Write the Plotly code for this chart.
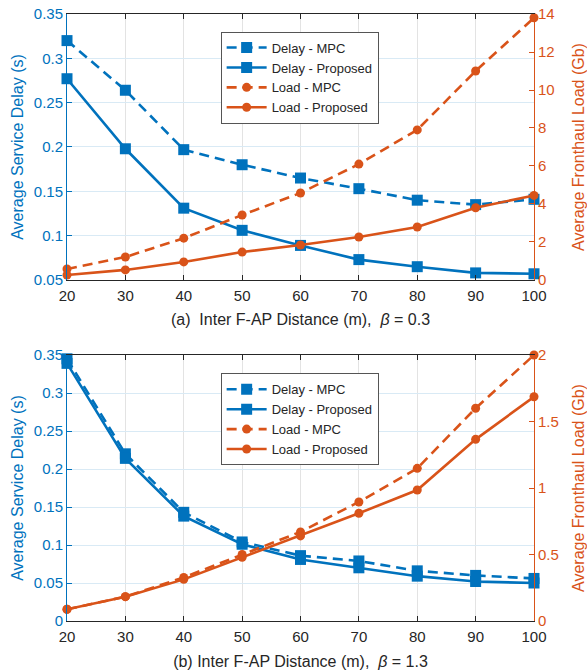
import plotly.graph_objects as go

# ---------------- data ----------------
distance = [20, 30, 40, 50, 60, 70, 80, 90, 100]

# (a) beta = 0.3
delay_mpc_a = [0.320, 0.264, 0.197, 0.180, 0.165, 0.153, 0.140, 0.135, 0.141]
delay_prop_a = [0.277, 0.198, 0.131, 0.106, 0.089, 0.073, 0.065, 0.058, 0.057]
load_mpc_a = [0.58, 1.21, 2.20, 3.42, 4.58, 6.10, 7.90, 11.0, 13.8]
load_prop_a = [0.26, 0.53, 0.95, 1.47, 1.84, 2.26, 2.79, 3.80, 4.45]

# (b) beta = 1.3
delay_mpc_b = [0.345, 0.220, 0.143, 0.104, 0.086, 0.079, 0.066, 0.060, 0.056]
delay_prop_b = [0.339, 0.214, 0.138, 0.101, 0.081, 0.070, 0.059, 0.052, 0.050]
load_mpc_b = [0.088, 0.183, 0.328, 0.500, 0.67, 0.895, 1.148, 1.60, 2.00]
load_prop_b = [0.088, 0.183, 0.313, 0.479, 0.64, 0.81, 0.985, 1.366, 1.686]

names = ["Delay - MPC", "Delay - Proposed", "Load - MPC", "Load - Proposed"]

BLUE = "#0072BD"
ORANGE = "#D95319"
DARK = "#262626"
FONT = "Liberation Sans, Arial, sans-serif"
DASH = "10px,6px"

fig = go.Figure()


def add_panel(xa, ya_l, ya_r, legend, dm, dp, lm, lp):
    fig.add_trace(go.Scatter(x=distance, y=dm, name=names[0], xaxis=xa, yaxis=ya_l,
                             mode="lines+markers", legend=legend, cliponaxis=False,
                             line=dict(color=BLUE, width=2.6, dash=DASH),
                             marker=dict(symbol="square", size=11, color=BLUE)))
    fig.add_trace(go.Scatter(x=distance, y=dp, name=names[1], xaxis=xa, yaxis=ya_l,
                             mode="lines+markers", legend=legend, cliponaxis=False,
                             line=dict(color=BLUE, width=2.6),
                             marker=dict(symbol="square", size=11, color=BLUE)))
    fig.add_trace(go.Scatter(x=distance, y=lm, name=names[2], xaxis=xa, yaxis=ya_r,
                             mode="lines+markers", legend=legend, cliponaxis=False,
                             line=dict(color=ORANGE, width=2.6, dash=DASH),
                             marker=dict(symbol="circle", size=9, color=ORANGE)))
    fig.add_trace(go.Scatter(x=distance, y=lp, name=names[3], xaxis=xa, yaxis=ya_r,
                             mode="lines+markers", legend=legend, cliponaxis=False,
                             line=dict(color=ORANGE, width=2.6),
                             marker=dict(symbol="circle", size=9, color=ORANGE)))


add_panel("x", "y", "y2", "legend", delay_mpc_a, delay_prop_a, load_mpc_a, load_prop_a)
add_panel("x2", "y3", "y4", "legend2", delay_mpc_b, delay_prop_b, load_mpc_b, load_prop_b)

GRID_X = "#e3e3e3"
GRID_Y = "#d9eaf5"
TICKF = 15
TITLEF = 16

xcommon = dict(range=[20, 100], tickvals=distance, showgrid=True, gridcolor=GRID_X,
               gridwidth=1, zeroline=False, showline=True, linecolor=DARK, linewidth=1,
               mirror="ticks", ticks="inside", ticklen=5, tickcolor=DARK,
               ticklabelstandoff=2, automargin=False,
               tickfont=dict(size=TICKF, color=DARK, family=FONT))

top_dom = [0.5618, 1.0]
bot_dom = [0.0, 0.4382]

fig.update_layout(
    width=587, height=671,
    margin=dict(l=67, r=53, t=14, b=50),
    paper_bgcolor="white", plot_bgcolor="white",
    font=dict(family=FONT, color=DARK),
    showlegend=True,
    xaxis=dict(**xcommon, anchor="y",
               title=dict(text="(a)  Inter F-AP Distance (m),  <i>β</i> = 0.3",
                          font=dict(size=TITLEF, color=DARK), standoff=10)),
    xaxis2=dict(**xcommon, anchor="y3",
                title=dict(text="(b) Inter F-AP Distance (m),  <i>β</i> = 1.3",
                           font=dict(size=TITLEF, color=DARK), standoff=11)),
    yaxis=dict(domain=top_dom, anchor="x", range=[0.05, 0.35], dtick=0.05, tick0=0.05,
               showgrid=True, gridcolor=GRID_Y, zeroline=False, showline=True,
               linecolor=BLUE, linewidth=1, ticks="inside", ticklen=5, tickcolor=BLUE,
               automargin=False,
               tickfont=dict(size=TICKF, color=BLUE, family=FONT),
               title=dict(text="Average Service Delay (s)",
                          font=dict(size=TITLEF, color=BLUE), standoff=6)),
    yaxis2=dict(domain=top_dom, anchor="x", overlaying="y", side="right", range=[0, 14],
                dtick=2, showgrid=False, zeroline=False, showline=True,
                linecolor=ORANGE, linewidth=1, ticks="inside", ticklen=5, tickcolor=ORANGE,
                automargin=False,
                tickfont=dict(size=TICKF, color=ORANGE, family=FONT),
                title=dict(text="Average Fronthaul Load (Gb)",
                           font=dict(size=TITLEF, color=ORANGE), standoff=19)),
    yaxis3=dict(domain=bot_dom, anchor="x2", range=[0, 0.35], dtick=0.05,
                showgrid=True, gridcolor=GRID_Y, zeroline=False, showline=True,
                linecolor=BLUE, linewidth=1, ticks="inside", ticklen=5, tickcolor=BLUE,
                automargin=False,
                tickfont=dict(size=TICKF, color=BLUE, family=FONT),
                title=dict(text="Average Service Delay (s)",
                           font=dict(size=TITLEF, color=BLUE), standoff=6)),
    yaxis4=dict(domain=bot_dom, anchor="x2", overlaying="y3", side="right", range=[0, 2],
                dtick=0.5, showgrid=False, zeroline=False, showline=True,
                linecolor=ORANGE, linewidth=1, ticks="inside", ticklen=5, tickcolor=ORANGE,
                automargin=False,
                tickfont=dict(size=TICKF, color=ORANGE, family=FONT),
                title=dict(text="Average Fronthaul Load (Gb)",
                           font=dict(size=TITLEF, color=ORANGE), standoff=15)),
    legend=dict(x=0.329, y=0.971, xanchor="left", yanchor="top",
                bgcolor="white", bordercolor="#555555", borderwidth=1,
                font=dict(size=13, color=DARK, family=FONT), itemwidth=40,
                tracegroupgap=0),
    legend2=dict(x=0.329, y=0.408, xanchor="left", yanchor="top",
                 bgcolor="white", bordercolor="#555555", borderwidth=1,
                 font=dict(size=13, color=DARK, family=FONT), itemwidth=40,
                 tracegroupgap=0),
)

fig.write_html("out.html")
